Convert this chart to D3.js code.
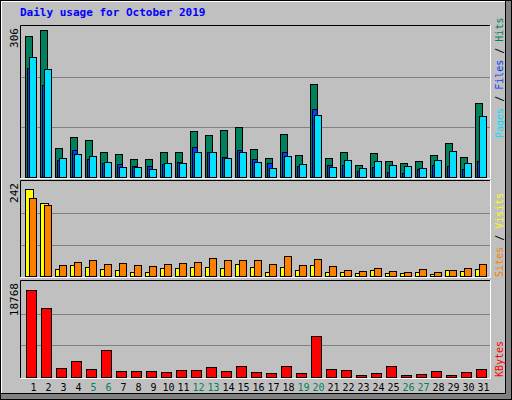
<!DOCTYPE html><html><head><meta charset="utf-8">
<script src="https://cdn.jsdelivr.net/npm/d3@7"></script>
<style>body{margin:0;background:#fff}svg{display:block}</style></head><body>
<script>
const days=d3.range(1,32);
const weekends=[5,6,12,13,19,20,26,27];
const hits=[288,300,60,81,76,52,46,36,36,52,52,93,85,95,103,58,38,87,44,190,38,52,24,48,32,28,32,44,70,40,150];
const files=[223,188,34,56,36,28,26,22,22,26,30,62,52,40,56,36,28,50,22,139,24,24,12,20,10,8,16,24,22,16,32];
const pages=[245,221,38,46,42,30,20,20,16,28,28,52,52,38,52,30,18,42,26,127,20,34,18,32,24,22,18,34,54,28,125];
const visits=[223,187,18,28,23,18,15,11,11,20,20,23,23,20,30,23,11,23,15,28,11,11,8,15,8,8,11,6,15,13,18];
const sites=[201,182,28,35,40,30,33,28,25,30,33,37,47,42,40,42,30,52,28,45,25,15,13,20,13,11,18,11,15,20,30];
const kbytes=[17141,13575,1752,3065,1564,5318,1189,1189,1189,1001,1376,1376,1939,1189,2127,1001,813,2127,813,8133,1564,1376,438,813,2127,438,626,1189,438,1001,1564];
const maxHits=306,maxSites=242,maxKB=18768;

const svg=d3.select("body").append("svg").attr("width",512).attr("height",400);
svg.append("rect").attr("width",512).attr("height",400).attr("fill","#c0c0c0");
// bevel
svg.append("rect").attr("x",0.5).attr("y",0.5).attr("width",511).attr("height",399).attr("fill","none").attr("stroke","#000");
svg.append("path").attr("d","M1.5,398V1.5H505").attr("stroke","#fff").attr("fill","none");
svg.append("rect").attr("x",506).attr("y",1).attr("width",5).attr("height",398).attr("fill","#808080");
svg.append("rect").attr("x",1).attr("y",394).attr("width",510).attr("height",5).attr("fill","#808080");
svg.append("path").attr("d","M505.5,1V393.5H1").attr("stroke","#000").attr("fill","none");

svg.append("text").attr("x",20).attr("y",16).text("Daily usage for October 2019")
 .attr("font-family","DejaVu Sans Mono").attr("font-weight","bold").attr("font-size",11).attr("fill","#0000ff");

const x=d3.scaleBand().domain(days).range([25.5,490.5]).paddingInner(0);
const panels=[{t:25,b:177,max:maxHits},{t:180,b:276,max:maxSites},{t:280,b:377,max:maxKB}];
panels.forEach(p=>{
  p.y=d3.scaleLinear().domain([0,p.max]).range([p.b,p.t+2]);
  svg.append("rect").attr("x",20).attr("y",p.t).attr("width",470).attr("height",p.b-p.t+1).attr("fill","#c0c0c0");
  [1/3,2/3].forEach(f=>svg.append("line").attr("x1",21).attr("x2",490).attr("y1",Math.round(p.y(p.max*f))+0.5).attr("y2",Math.round(p.y(p.max*f))+0.5).attr("stroke","#808080"));
  svg.append("path").attr("d",`M20.5,${p.b+1}V${p.t+0.5}H490`).attr("stroke","#000").attr("fill","none");
  svg.append("path").attr("d",`M490.5,${p.t}V${p.b+1.5}H20`).attr("stroke","#fff").attr("fill","none");
  svg.append("text").attr("transform",`translate(18,${p.t+3}) rotate(-90)`).attr("text-anchor","end")
   .attr("font-family","DejaVu Sans Mono").attr("font-size",11).attr("fill","#000").text(d3.format("d")(p.max));
});
function bars(data,p,off,w,color){
  svg.append("g").selectAll("rect").data(data).join("rect")
   .attr("x",(d,i)=>x(days[i])+off).attr("width",w)
   .attr("y",d=>Math.round(p.y(d))+0.5).attr("height",d=>p.b-Math.round(p.y(d)))
   .attr("fill",color).attr("stroke","#000");
}
bars(hits,panels[0],0,7,"#00805c");
bars(files,panels[0],2,5,"#0040ff");
bars(pages,panels[0],4,7,"#00e0ff");
bars(visits,panels[1],0,8,"#ffff00");
bars(sites,panels[1],4,7,"#ff8000");
bars(kbytes,panels[2],1,10,"#ff0000");

svg.append("g").selectAll("text").data(days).join("text")
 .attr("x",d=>x(d)+8).attr("y",391).attr("text-anchor","middle")
 .attr("font-family","DejaVu Sans Mono").attr("font-size",10)
 .attr("fill",d=>weekends.includes(d)?"#00805c":"#000").text(d=>d);

function vlabel(yb,parts){
  const t=svg.append("text").attr("transform",`translate(503,${yb}) rotate(-90)`)
   .attr("font-family","DejaVu Sans Mono").attr("font-size",10);
  parts.forEach(([s,c])=>t.append("tspan").attr("fill",c).text(s));
}
vlabel(138,[["Pages","#00e0ff"],[" / ","#000"],["Files","#0040ff"],[" / ","#000"],["Hits","#00805c"]]);
vlabel(277,[["Sites","#ff8000"],[" / ","#000"],["Visits","#ffff00"]]);
vlabel(377,[["KBytes","#ff0000"]]);
</script></body></html>
